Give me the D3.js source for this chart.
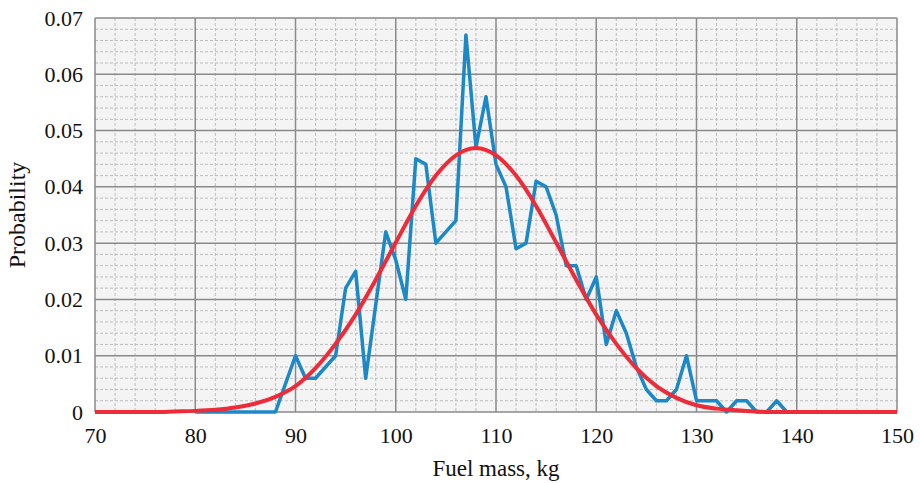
<!DOCTYPE html>
<html>
<head>
<meta charset="utf-8">
<script src="https://cdn.jsdelivr.net/npm/d3@7"></script>
<style>
    body { margin: 0; background: #fff; }
    text { font-family: "Liberation Serif", "DejaVu Serif", serif; fill: #111; }
</style>
</head>
<body>
<script>
// observed distribution (blue), one point per kg
var massKg = [80, 81, 82, 83, 84, 85, 86, 87, 88, 89, 90, 91, 92, 93, 94, 95, 96, 97, 98, 99,
    100, 101, 102, 103, 104, 105, 106, 107, 108, 109, 110, 111, 112, 113, 114, 115, 116, 117, 118, 119,
    120, 121, 122, 123, 124, 125, 126, 127, 128, 129, 130, 131, 132, 133, 134, 135, 136, 137, 138, 139];
var probObserved = [0, 0, 0, 0, 0, 0, 0, 0, 0, 0.005, 0.010, 0.006, 0.006, 0.008, 0.010, 0.022, 0.025, 0.006, 0.019, 0.032,
    0.027, 0.020, 0.045, 0.044, 0.030, 0.032, 0.034, 0.067, 0.047, 0.056, 0.044, 0.040, 0.029, 0.030, 0.041, 0.040, 0.035, 0.026, 0.026, 0.020,
    0.024, 0.012, 0.018, 0.014, 0.008, 0.004, 0.002, 0.002, 0.004, 0.010, 0.002, 0.002, 0.002, 0, 0.002, 0.002, 0, 0, 0.002, 0];

// fitted curve (red), read every 2 kg
var fitKg = [70, 72, 74, 76, 78, 80, 82, 84, 86, 88, 90, 92, 94, 96, 98, 100, 102, 104, 106, 108,
    110, 112, 114, 116, 118, 120, 122, 124, 126, 128, 130, 132, 134, 136, 138, 140, 142, 144, 146, 148, 150];
var probFit = [0, 0, 0, 0, 0.0001, 0.0002, 0.0004, 0.0008, 0.0015, 0.0027, 0.0046, 0.0078, 0.0121, 0.0173, 0.0235, 0.0301, 0.0366, 0.0420, 0.0456, 0.0469,
    0.0456, 0.0420, 0.0366, 0.0301, 0.0235, 0.0173, 0.0121, 0.0078, 0.0046, 0.0025, 0.0012, 0.0006, 0.0003, 0.0001, 0, 0, 0, 0, 0, 0, 0];

var xTicks = [70, 80, 90, 100, 110, 120, 130, 140, 150];
var yTicks = [0, 0.01, 0.02, 0.03, 0.04, 0.05, 0.06, 0.07];

var W = 920, H = 483;
var margin = { top: 18, right: 23, bottom: 71, left: 95 },
    width = W - margin.left - margin.right,
    height = H - margin.top - margin.bottom;

var svg = d3.select("body").append("svg")
    .attr("width", W)
    .attr("height", H);

var g = svg.append("g")
    .attr("transform", "translate(" + margin.left + "," + margin.top + ")");

var x = d3.scaleLinear().domain([70, 150]).range([0, width]);
var y = d3.scaleLinear().domain([0, 0.07]).range([height, 0]);

g.append("rect")
    .attr("width", width)
    .attr("height", height)
    .style("fill", "#f4f4f4");

// minor grid
var minorX = d3.range(70, 150.01, 2).filter(function(d) { return d % 10 !== 0; });
var minorY = d3.range(0, 70.01, 2).filter(function(d) { return d % 10 !== 0; }).map(function(d) { return d / 1000; });

g.append("g").selectAll("line")
    .data(minorX)
    .enter().append("line")
    .attr("x1", function(d) { return x(d); })
    .attr("x2", function(d) { return x(d); })
    .attr("y1", 0)
    .attr("y2", height)
    .style("stroke", "#bdbdbd")
    .style("stroke-width", 1)
    .style("stroke-dasharray", "3,2");

g.append("g").selectAll("line")
    .data(minorY)
    .enter().append("line")
    .attr("x1", 0)
    .attr("x2", width)
    .attr("y1", function(d) { return y(d); })
    .attr("y2", function(d) { return y(d); })
    .style("stroke", "#bdbdbd")
    .style("stroke-width", 1)
    .style("stroke-dasharray", "3,2");

// major grid
g.append("g").selectAll("line")
    .data(xTicks)
    .enter().append("line")
    .attr("x1", function(d) { return x(d); })
    .attr("x2", function(d) { return x(d); })
    .attr("y1", 0)
    .attr("y2", height)
    .style("stroke", "#8a8a8a")
    .style("stroke-width", 1.5);

g.append("g").selectAll("line")
    .data(yTicks)
    .enter().append("line")
    .attr("x1", 0)
    .attr("x2", width)
    .attr("y1", function(d) { return y(d); })
    .attr("y2", function(d) { return y(d); })
    .style("stroke", "#8a8a8a")
    .style("stroke-width", 1.5);

// axes (labels only, grid does the lines)
var xAxis = g.append("g")
    .attr("transform", "translate(0," + height + ")")
    .call(d3.axisBottom(x).tickValues(xTicks).tickSize(0).tickPadding(15).tickFormat(d3.format("d")));
var yAxis = g.append("g")
    .call(d3.axisLeft(y).tickValues(yTicks).tickSize(0).tickPadding(12)
        .tickFormat(function(d) { return d === 0 ? "0" : d3.format(".2f")(d); }));

[xAxis, yAxis].forEach(function(a) {
    a.select(".domain").remove();
    a.selectAll("text")
        .style("font-family", "'Liberation Serif', serif")
        .style("font-size", "22px")
        .style("fill", "#111");
});

// series
var blueLine = d3.line()
    .x(function(d, i) { return x(massKg[i]); })
    .y(function(d) { return y(d); });

g.append("path")
    .datum(probObserved)
    .attr("d", blueLine)
    .style("fill", "none")
    .style("stroke", "#1b88c8")
    .style("stroke-width", 3.5)
    .style("stroke-linejoin", "round");

var redLine = d3.line()
    .x(function(d, i) { return x(fitKg[i]); })
    .y(function(d) { return y(d); })
    .curve(d3.curveMonotoneX);

g.append("path")
    .datum(probFit)
    .attr("d", redLine)
    .style("fill", "none")
    .style("stroke", "#ee2b38")
    .style("stroke-width", 4);

// axis titles
svg.append("text")
    .attr("x", margin.left + width / 2)
    .attr("y", 476)
    .attr("text-anchor", "middle")
    .style("font-size", "23px")
    .text("Fuel mass, kg");

svg.append("text")
    .attr("transform", "translate(25," + (margin.top + height / 2) + ") rotate(-90)")
    .attr("text-anchor", "middle")
    .style("font-size", "24px")
    .text("Probability");
</script>
</body>
</html>
